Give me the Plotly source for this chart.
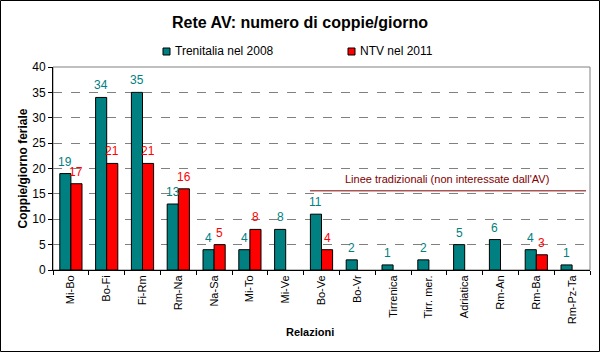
import plotly.graph_objects as go

categories = ["Mi-Bo", "Bo-Fi", "Fi-Rm", "Rm-Na", "Na-Sa", "Mi-To", "Mi-Ve", "Bo-Ve",
              "Bo-Vr", "Tirrenica", "Tirr. mer.", "Adriatica", "Rm-An", "Rm-Ba", "Rm-Pz-Ta"]
trenitalia_2008 = [19, 34, 35, 13, 4, 4, 8, 11, 2, 1, 2, 5, 6, 4, 1]
ntv_2011 = [17, 21, 21, 16, 5, 8, None, 4, None, None, None, None, None, 3, None]
series_names = ["Trenitalia nel 2008", "NTV nel 2011"]

TEAL = "#008080"
RED = "#FF0000"
FONT = "Arial, Liberation Sans, sans-serif"

W, H = 600, 352
L, R, T, B = 53, 10, 67, 82
pw, ph = W - L - R, H - T - B
BARGAP = 0.38
half_bar_px = pw / len(categories) * (1 - BARGAP) / 4

fig = go.Figure()
fig.add_trace(go.Bar(
    x=categories, y=trenitalia_2008, name=series_names[0],
    marker=dict(color=TEAL, line=dict(color="black", width=1)),
))
fig.add_trace(go.Bar(
    x=categories, y=ntv_2011, name=series_names[1],
    marker=dict(color=RED, line=dict(color="black", width=1)),
))


def px_x(px):
    return (px - L) / pw


def px_y(py):
    return (H - B - py) / ph


shapes = [
    dict(type="rect", xref="paper", yref="paper", x0=0, x1=1, y0=0, y1=1,
         line=dict(color="#808080", width=1), layer="below"),
    dict(type="rect", xref="paper", yref="paper", x0=px_x(0.5), x1=px_x(W - 0.5),
         y0=px_y(H - 0.5), y1=px_y(0.5), line=dict(color="black", width=1)),
    dict(type="line", xref="x", yref="y", x0=6.68, x1=14.39, y0=15.6, y1=15.6,
         line=dict(color="#800000", width=1)),
]

annotations = [
    dict(text="Linee tradizionali (non interessate dall'AV)", xref="x", yref="y",
         x=10.5, y=17.9, showarrow=False,
         font=dict(color="#800000", size=11, family=FONT)),
    dict(text="<b>Coppie/giorno feriale</b>", xref="paper", yref="paper",
         x=px_x(13), y=0.5, textangle=-90, showarrow=False,
         font=dict(color="black", size=12, family=FONT)),
    dict(text="<b>Relazioni</b>", xref="paper", yref="paper",
         x=px_x(310), y=px_y(340), showarrow=False,
         font=dict(color="black", size=11, family=FONT)),
]

# data labels above bars
for vals, col, sh in [(trenitalia_2008, TEAL, -half_bar_px), (ntv_2011, RED, half_bar_px)]:
    for cat, v in zip(categories, vals):
        if v is None:
            continue
        annotations.append(dict(text=str(v), x=cat, y=v, xref="x", yref="y",
                                xshift=sh, yshift=12, showarrow=False,
                                yanchor="middle", xanchor="center",
                                font=dict(color=col, size=12, family=FONT)))

# manual legend
legend_items = [(series_names[0], TEAL, 163), (series_names[1], RED, 348)]
for name, col, x0 in legend_items:
    shapes.append(dict(type="rect", xref="paper", yref="paper",
                       x0=px_x(x0), x1=px_x(x0 + 7), y0=px_y(55), y1=px_y(48),
                       fillcolor=col, line=dict(color="black", width=1)))
    annotations.append(dict(text=name, xref="paper", yref="paper",
                            x=px_x(x0 + 9.5), y=px_y(51.5), xanchor="left", yanchor="middle",
                            showarrow=False, font=dict(color="black", size=12, family=FONT)))

fig.update_layout(
    width=W, height=H,
    margin=dict(l=L, r=R, t=T, b=B),
    paper_bgcolor="white", plot_bgcolor="white",
    font=dict(family=FONT, size=11, color="black"),
    title=dict(text="<b>Rete AV: numero di coppie/giorno</b>", xref="container",
               x=0.5, xanchor="center", y=1 - 22 / H, yanchor="middle",
               font=dict(size=16, family=FONT, color="black")),
    barmode="group", bargap=BARGAP, bargroupgap=0,
    showlegend=False,
    xaxis=dict(type="category", showline=True, linecolor="black", linewidth=1,
               ticks="outside", tickson="boundaries", ticklen=4, tickcolor="black",
               tickangle=-90, tickfont=dict(size=11, family=FONT), showgrid=False,
               range=[-0.5, 14.5]),
    yaxis=dict(range=[0, 40], dtick=5, showline=True, linecolor="black", linewidth=1,
               ticks="outside", ticklen=4, tickcolor="black", showgrid=True,
               gridcolor="#808080", griddash="dash", gridwidth=1, zeroline=False,
               tickfont=dict(size=12, family=FONT)),
    shapes=shapes, annotations=annotations,
)

fig.write_html("out.html")
